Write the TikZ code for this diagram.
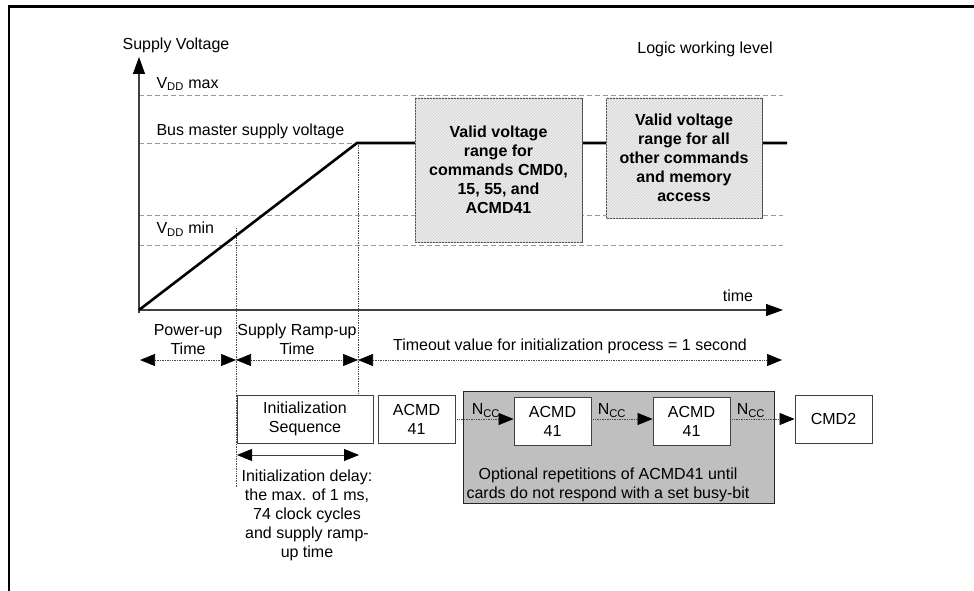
\documentclass[tikz,border=0pt]{standalone}
\usepackage{fontspec}
\setmainfont{Liberation Sans}
\usetikzlibrary{arrows.meta,patterns}

\begin{document}
\begin{tikzpicture}[x=1pt, y=-1pt,
    font=\fontsize{16}{19}\selectfont,
    level/.style={draw=gray!80, dash pattern=on 5pt off 3pt, line width=0.8pt},
    marker/.style={draw=black!70, densely dotted, line width=0.7pt},
    axis/.style={draw=black!75, line width=1.1pt, -{Triangle[length=17pt, width=12pt, black]}},
    span/.style={draw=black!70, densely dotted, line width=0.7pt,
                 {Triangle[length=15pt, width=12pt, black]}-{Triangle[length=15pt, width=12pt, black]}},
    valid/.style={draw=black!70, line width=0.8pt, fill=gray!14, align=center,
                  font=\fontsize{16}{19}\selectfont\bfseries,
                  postaction={pattern=north east lines, pattern color=gray!35}},
    cmdbox/.style={draw=black!75, line width=0.8pt, fill=white, align=center,
                   minimum width=77pt, minimum height=48pt, inner sep=1pt},
    ncc/.style={draw=black!70, densely dotted, line width=0.7pt,
                -{Triangle[length=15pt, width=12pt, black]}},
    ncclabel/.style={anchor=south west, inner sep=1pt}]

  \useasboundingbox (0,0) rectangle (974,591);

  % ---- frame ------------------------------------------------------------
  \draw[line width=2.4pt] (9,591) -- (9,6.5) -- (974,6.5);

  % ---- voltage chart ----------------------------------------------------
  \coordinate (O)    at (139,310);
  \coordinate (ramp) at (357,143);
  \coordinate (t1)   at (236,228);
  \coordinate (t2)   at (358,143);

  \draw[level] (O |- 0,95)  -- (783,95);
  \draw[level] (O |- 0,143) -- (ramp);
  \draw[level] (O |- 0,215) -- (783,215);
  \draw[level] (O |- 0,245) -- (783,245);

  \node[anchor=west] (vmax) at (153,84)  {V\textsubscript{DD} max};
  \node[anchor=west] (bus)  at (153,131) {Bus master supply voltage};
  \node[anchor=west] (vmin) at (153,229) {V\textsubscript{DD} min};
  \node (logic) at (705,49) {Logic working level};

  \draw[axis] (139,313) -- (139,57);
  \draw[axis] (O) -- (783,310);
  \node (ylab) at (176,45)  {Supply Voltage};
  \node (xlab) at (738,296) {time};

  \draw[marker] (t1) -- (236,488);
  \draw[marker] (t2) -- (358,395);

  \draw[line width=2.6pt] (O) -- (ramp) -- (787,143);

  \node[valid, minimum width=167pt, minimum height=144pt] (cmd0)  at (498.5,170)
      {Valid voltage\\range for\\commands CMD0,\\15, 55, and\\ACMD41};
  \node[valid, minimum width=156pt, minimum height=120pt] (other) at (684,158)
      {Valid voltage\\range for all\\other commands\\and memory\\access};

  % ---- time spans -------------------------------------------------------
  \coordinate (s0) at (140,360);
  \coordinate (s1) at (236,360);
  \coordinate (s2) at (358,360);
  \coordinate (s3) at (782,360);
  \draw[span] (s0) -- node[above=2pt, align=center] {Power-up\\Time} (s1);
  \draw[span] (s1) -- node[above=2pt, align=center] {Supply Ramp-up\\Time} (s2);
  \draw[span] (s2) -- node[above=2pt] {Timeout value for initialization process = 1 second} (s3);

  % ---- command sequence -------------------------------------------------
  \node[fill=gray!50, draw=black!85, line width=0.8pt,
        minimum width=311pt, minimum height=112pt] (rep) at (618.5,447) {};
  \node[align=center] (reptxt) at (608,485)
      {Optional repetitions of ACMD41 until\\cards do not respond with a set busy-bit};

  \node[cmdbox, minimum width=136pt] (init)  at (305,419)   {Initialization\\Sequence};
  \node[cmdbox]                      (acmdA) at (416.5,419) {ACMD\\41};
  \node[cmdbox]                      (acmdB) at (552.5,421) {ACMD\\41};
  \node[cmdbox]                      (acmdC) at (691.5,421) {ACMD\\41};
  \node[cmdbox]                      (cmd2)  at (833.5,419) {CMD2};

  \draw[ncc] (acmdA.east) -- node[ncclabel, pos=0, xshift=15pt] {N\textsubscript{CC}} (acmdA.east -| acmdB.west);
  \draw[ncc] (acmdB.east |- acmdA.east) -- node[ncclabel, pos=0, xshift=5pt] {N\textsubscript{CC}} (acmdA.east -| acmdC.west);
  \draw[ncc] (acmdC.east |- acmdA.east) -- node[ncclabel, pos=0, xshift=5pt] {N\textsubscript{CC}} (acmdA.east -| cmd2.west);

  \coordinate (d1) at (237,455);
  \coordinate (d2) at (359,455);
  \draw[black!75, line width=0.8pt,
        {Triangle[length=15pt, width=12pt, black]}-{Triangle[length=15pt, width=12pt, black]}] (d1) -- (d2);
  \node[align=center] (delay) at (307,515)
      {Initialization delay:\\the max. of 1 ms,\\74 clock cycles\\and supply ramp-\\up time};
\end{tikzpicture}
\end{document}
